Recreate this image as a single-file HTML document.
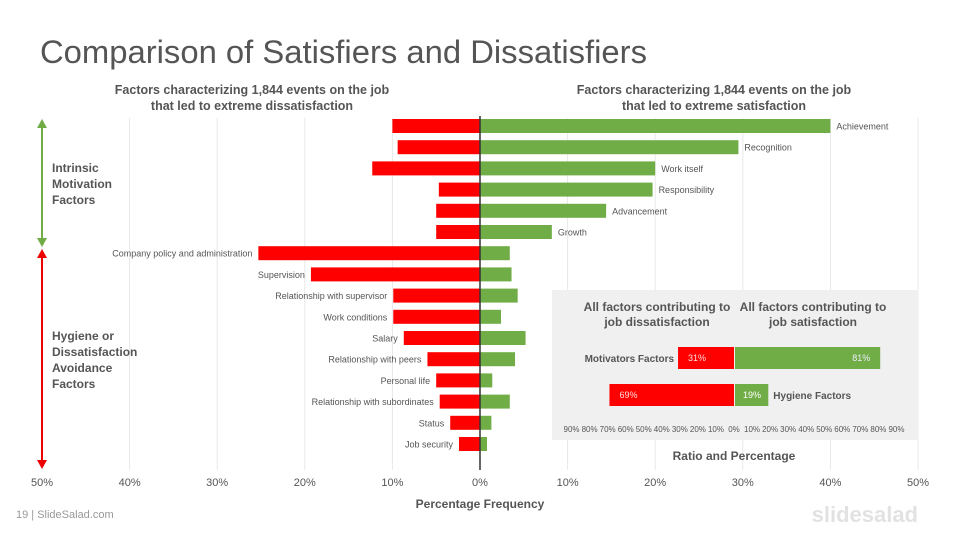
<!DOCTYPE html>
<html><head><meta charset="utf-8"><style>
body{margin:0;background:#fff;font-family:"Liberation Sans",sans-serif}
svg{display:block}
</style></head><body>
<svg id="c" width="960" height="540" xmlns="http://www.w3.org/2000/svg">
<text x="40" y="63" font-size="32.8" fill="#555">Comparison of Satisfiers and Dissatisfiers</text>
<g font-size="12.5" font-weight="bold" fill="#555" text-anchor="middle">
<text x="252" y="94">Factors characterizing 1,844  events on the job</text>
<text x="252" y="110">that led to extreme dissatisfaction</text>
<text x="714" y="94">Factors characterizing 1,844  events on the job</text>
<text x="714" y="110">that led to extreme satisfaction</text>
</g>
<g id="grid"></g>
<rect x="552" y="290" width="366" height="150" fill="#f0f0f0"/>
<g id="bars"></g>
<line x1="480" y1="116" x2="480" y2="470" stroke="#333" stroke-width="1.5"/>
<g id="inset"></g>
<g font-size="12" font-weight="bold" fill="#555">
<text x="52" y="172"><tspan x="52">Intrinsic</tspan><tspan x="52" dy="16">Motivation</tspan><tspan x="52" dy="16">Factors</tspan></text>
<text x="52" y="340"><tspan x="52">Hygiene or</tspan><tspan x="52" dy="16">Dissatisfaction</tspan><tspan x="52" dy="16">Avoidance</tspan><tspan x="52" dy="16">Factors</tspan></text>
<text x="480" y="508" text-anchor="middle">Percentage Frequency</text>
<text x="734" y="460" text-anchor="middle">Ratio and Percentage</text>
</g>
<line x1="42" y1="126" x2="42" y2="240" stroke="#70ad47" stroke-width="2"/>
<polygon points="37,128 42,119 47,128" fill="#70ad47"/>
<polygon points="37,238 42,247 47,238" fill="#70ad47"/>
<line x1="42" y1="256" x2="42" y2="462" stroke="#e00" stroke-width="2"/>
<polygon points="37,258 42,249 47,258" fill="#e00"/>
<polygon points="37,460 42,469 47,460" fill="#e00"/>
<text x="16" y="518" font-size="11" fill="#999">19    | SlideSalad.com</text>
<text x="918" y="522" font-size="22" font-weight="bold" fill="#e2e2e2" text-anchor="end">slidesalad</text>
</svg>
<script>
const categories=["Achievement","Recognition","Work itself","Responsibility","Advancement","Growth","Company policy and administration","Supervision","Relationship  with supervisor","Work conditions","Salary","Relationship  with peers","Personal life","Relationship  with subordinates","Status","Job security"];
const dissatisfaction=[10,9.4,12.3,4.7,5,5,25.3,19.3,9.9,9.9,8.7,6,5,4.6,3.4,2.4];
const satisfaction=[40,29.5,20,19.7,14.4,8.2,3.4,3.6,4.3,2.4,5.2,4,1.4,3.4,1.3,0.8];
const xTicks=[-50,-40,-30,-20,-10,0,10,20,30,40,50];
const insetCategories=["Motivators Factors","Hygiene Factors"];
const insetDissat=[31,69];
const insetSat=[81,19];
const insetTicks=[-90,-80,-70,-60,-50,-40,-30,-20,-10,0,10,20,30,40,50,60,70,80,90];

const NS="http://www.w3.org/2000/svg";
function mk(p,t,a,txt){const e=document.createElementNS(NS,t);for(const k in a)e.setAttribute(k,a[k]);if(txt!=null)e.textContent=txt;p.appendChild(e);return e;}
const x=v=>480+v*8.76;
const y=i=>126+i*21.2;
const ix=v=>734+v*1.805;
const grid=document.getElementById('grid'),bars=document.getElementById('bars'),inset=document.getElementById('inset');
xTicks.forEach(t=>{
  if(t!==0){const l=mk(grid,'line',{x1:x(t),x2:x(t),y1:118,y2:470,stroke:'#e8e8e8'});
  
  }
  const tx=mk(grid,'text',{x:x(t),y:486,'font-size':11,fill:'#555','text-anchor':'middle'},Math.abs(t)+'%');
  
  
});
categories.forEach((c,i)=>{
  const r=mk(bars,'rect',{x:x(-dissatisfaction[i]),y:y(i)-7,width:x(0)-x(-dissatisfaction[i]),height:14,fill:'#f00'});
  
  
  const g=mk(bars,'rect',{x:x(0),y:y(i)-7,width:x(satisfaction[i])-x(0),height:14,fill:'#70ad47'});
  
  
  let t;
  if(i<6) t=mk(bars,'text',{x:x(satisfaction[i])+6,y:y(i)+3.5,'font-size':9,fill:'#555'},c);
  else t=mk(bars,'text',{x:x(-dissatisfaction[i])-6,y:y(i)+3.5,'font-size':9,fill:'#555','text-anchor':'end'},c);
  
  
});
[["All factors contributing to","job dissatisfaction",657],["All factors contributing to","job satisfaction",813]].forEach(h=>{
  const t=mk(inset,'text',{x:h[2],y:311,'font-size':12,'font-weight':'bold',fill:'#555','text-anchor':'middle'});
  
  
  mk(t,'tspan',{x:h[2]},h[0]);mk(t,'tspan',{x:h[2],dy:15},h[1]);
});
const iy=[358,395];
insetCategories.forEach((c,i)=>{
  const r=mk(inset,'rect',{x:ix(-insetDissat[i]),y:iy[i]-11,width:ix(0)-ix(-insetDissat[i]),height:22,fill:'#f00'});
  
  
  const g=mk(inset,'rect',{x:ix(0)+1,y:iy[i]-11,width:ix(insetSat[i])-ix(0)-1,height:22,fill:'#70ad47'});
  
  
  const a=mk(inset,'text',{x:ix(-insetDissat[i])+10,y:iy[i]+3,'font-size':9,fill:'#fdd'},insetDissat[i]+'%');
  
  
  const b=i===0?mk(inset,'text',{x:ix(insetSat[i])-10,y:iy[i]+3,'font-size':9,fill:'#eef','text-anchor':'end'},insetSat[i]+'%')
               :mk(inset,'text',{x:ix(0)+9,y:iy[i]+3,'font-size':9,fill:'#fff'},insetSat[i]+'%');
  
  
  const l=i===0?mk(inset,'text',{x:ix(-insetDissat[i])-4,y:iy[i]+4,'font-size':10,'font-weight':'bold',fill:'#555','text-anchor':'end'},c)
               :mk(inset,'text',{x:ix(insetSat[i])+5,y:iy[i]+4,'font-size':10,'font-weight':'bold',fill:'#555'},c);
  
  
});
insetTicks.forEach(t=>{
  const tx=mk(inset,'text',{x:ix(t),y:432,'font-size':8,fill:'#555','text-anchor':'middle'},Math.abs(t)+'%');
  
  
});
</script>
</body></html>
